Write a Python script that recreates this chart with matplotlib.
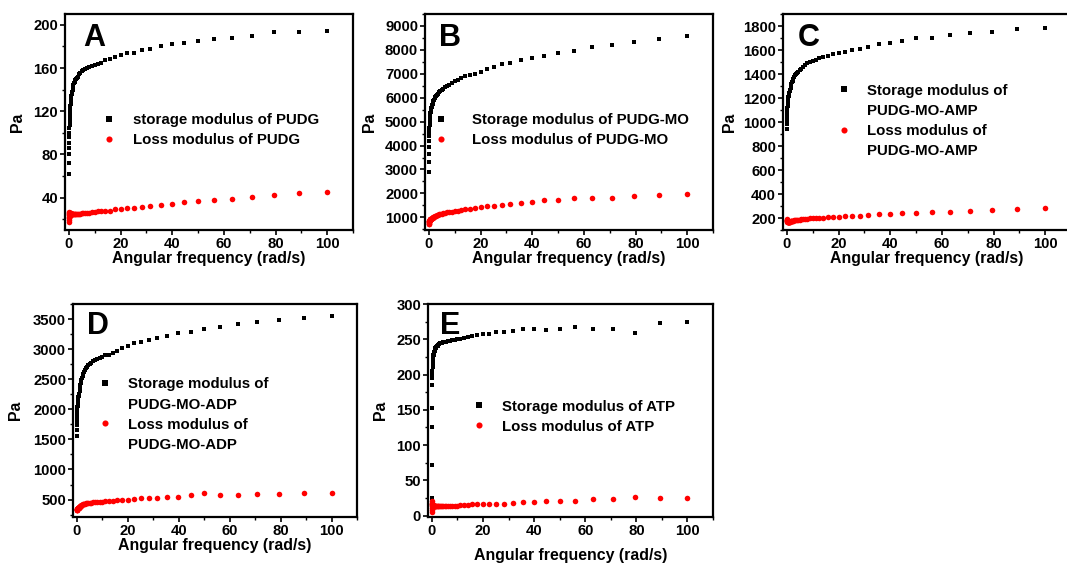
import matplotlib
matplotlib.use("Agg")
import matplotlib.pyplot as plt
from matplotlib.offsetbox import HPacker
from matplotlib.ticker import MultipleLocator

plt.rcParams['font.family'] = ['Liberation Sans', 'DejaVu Sans']
plt.rcParams['font.weight'] = 'bold'

# angular frequency sweep (rad/s)
freq = [0.1, 0.112, 0.126, 0.141, 0.158, 0.178, 0.2, 0.224, 0.251, 0.282,
        0.316, 0.355, 0.398, 0.447, 0.501, 0.562, 0.631, 0.708, 0.794, 0.891,
        1.0, 1.12, 1.26, 1.41, 1.58, 1.78, 2.0, 2.24, 2.51, 2.82,
        3.16, 3.55, 3.98, 4.47, 5.01, 5.62, 6.31, 7.08, 7.94, 8.91,
        10.0, 11.2, 12.6, 14.1, 15.8, 17.8, 20.0, 22.4, 25.1, 28.2,
        31.6, 35.5, 39.8, 44.7, 50.1, 56.2, 63.1, 70.8, 79.4, 89.1, 100.0]

# A - PUDG
a_storage = [62, 72, 80, 86, 91, 96, 100, 104, 107, 110, 113, 116, 119, 121, 123, 125, 127, 129, 131, 133,
             134, 136, 138, 140, 142, 144, 146, 147, 149, 150, 151, 152, 154, 155, 157, 158, 159, 160, 161, 162,
             163, 164, 165, 167, 168, 170, 172, 174, 174, 177, 178, 180, 182, 183, 185, 187, 188, 190, 193, 193, 194]
a_loss = [17, 22, 26, 19, 24, 27, 21, 25, 26, 23, 26, 25, 26, 25, 26, 25, 26, 25, 25, 25,
          25, 25, 25, 25, 25, 25, 25, 25, 25, 25, 25, 25, 25, 25, 25.5, 25.5, 26, 26, 26, 26.5,
          27, 27.5, 28, 28, 28, 29.5, 29.5, 30, 30.5, 31.5, 32.5, 33, 34.5, 35.5, 37, 38, 39, 41, 42, 44, 45]

# B - PUDG-MO
b_storage = [2900, 3300, 3650, 3950, 4200, 4400, 4570, 4720, 4850, 4960, 5060, 5140, 5210, 5270, 5320, 5370, 5410, 5450, 5490, 5520,
             5550, 5620, 5690, 5750, 5810, 5870, 5920, 5970, 6020, 6070, 6120, 6170, 6220, 6270, 6330, 6380, 6430, 6490, 6550, 6610,
             6700, 6760, 6830, 6900, 6950, 7000, 7090, 7200, 7300, 7400, 7470, 7570, 7670, 7760, 7870, 7970, 8100, 8210, 8340, 8470, 8590]
b_loss = [700, 740, 770, 800, 820, 840, 850, 860, 870, 880, 890, 895, 900, 905, 910, 915, 920, 925, 930, 935,
          940, 955, 970, 985, 1000, 1015, 1030, 1045, 1060, 1075, 1090, 1105, 1120, 1135, 1150, 1170, 1185, 1205, 1220, 1240,
          1260, 1280, 1310, 1340, 1360, 1390, 1420, 1470, 1490, 1530, 1560, 1610, 1650, 1710, 1740, 1800, 1820, 1820, 1880, 1920, 1990]

# C - PUDG-MO-AMP
c_storage = [940, 980, 1010, 1040, 1060, 1080, 1100, 1115, 1130, 1145, 1160, 1170, 1180, 1190, 1200, 1208, 1216, 1224, 1230, 1235,
             1240, 1255, 1270, 1285, 1300, 1315, 1330, 1345, 1360, 1375, 1390, 1400, 1410, 1420, 1430, 1445, 1460, 1475, 1490, 1500,
             1510, 1520, 1530, 1540, 1550, 1565, 1577, 1586, 1600, 1611, 1623, 1646, 1657, 1674, 1697, 1700, 1723, 1740, 1754, 1771, 1783]
c_loss = [180, 188, 175, 185, 172, 182, 170, 178, 168, 175, 170, 172, 168, 170, 167, 169, 168, 167, 168, 168,
          168, 168, 170, 171, 172, 174, 175, 177, 178, 180, 181, 183, 184, 186, 187, 189, 191, 193, 195, 196,
          198, 200, 202, 204, 206, 209, 211, 214, 220, 220, 229, 231, 237, 243, 243, 251, 251, 257, 263, 277, 283]

# D - PUDG-MO-ADP
d_storage = [1550, 1650, 1740, 1810, 1870, 1920, 1960, 2000, 2030, 2060, 2090, 2110, 2130, 2150, 2170, 2185, 2200, 2215, 2228, 2240,
             2250, 2300, 2350, 2400, 2440, 2480, 2520, 2555, 2590, 2620, 2650, 2680, 2705, 2730, 2755, 2775, 2795, 2815, 2835, 2855,
             2870, 2900, 2900, 2930, 2975, 3015, 3055, 3095, 3115, 3145, 3185, 3210, 3265, 3285, 3335, 3360, 3415, 3450, 3490, 3515, 3545]
d_loss = [320, 325, 330, 334, 338, 342, 345, 348, 351, 354, 356, 358, 360, 362, 363, 364, 365, 366, 367, 368,
          370, 378, 386, 393, 400, 406, 412, 418, 423, 428, 432, 436, 440, 444, 447, 450, 453, 456, 459, 462,
          465, 470, 475, 480, 489, 495, 500, 517, 522, 528, 533, 544, 544, 578, 611, 572, 572, 589, 589, 611, 611]

# E - ATP
e_storage = [12, 25, 72, 125, 152, 185, 195, 200, 205, 210, 213, 216, 219, 221, 223, 225, 227, 228, 229, 231,
             232, 234, 236, 237, 238, 239, 240, 241, 242, 243, 244, 244.5, 245, 245.5, 246, 246.5, 247, 247.5, 248.5, 249,
             250, 251, 252, 253.5, 254.5, 255.7, 257, 258, 260, 261, 262, 264, 265, 263, 265, 267.5, 265, 265, 259.5, 272.4, 273.8]
e_loss = [5, 8, 11, 15, 18, 20, 17, 14, 16, 13, 15, 12, 14, 13, 15, 13, 14, 13, 14, 13,
          13, 13, 13, 13, 13, 13, 13, 13, 13, 13.5, 13.5, 13.5, 13.5, 13.5, 13.5, 14, 14, 14, 14, 14,
          14, 14.5, 15, 15.5, 16, 16, 16, 16, 17, 17, 18, 19, 19.5, 21, 21, 21, 23, 23, 26, 25, 25]

W, H = 1067, 563
fig = plt.figure(figsize=(W / 100, H / 100), dpi=100)


def panel(box, letter, storage, loss, lab_s, lab_l, ylim, ystep,
          leg_xy, letter_xy, ylab_x, textpad=1.05, xlabpad=0.0):
    l, t, r, b = box
    ax = fig.add_axes([l / W, 1 - b / H, (r - l) / W, (b - t) / H])
    ax.plot(freq, storage, 's', color='black', ms=3.5, mew=0, label=lab_s)
    ax.plot(freq, loss, 'o', color='red', ms=4.0, mew=0, label=lab_l)
    ax.set_xlim(-1.5, 110)
    ax.set_ylim(*ylim)
    ax.xaxis.set_major_locator(MultipleLocator(20))
    ax.xaxis.set_minor_locator(MultipleLocator(10))
    ax.yaxis.set_major_locator(MultipleLocator(ystep))
    ax.yaxis.set_minor_locator(MultipleLocator(ystep / 2))
    ax.tick_params(which='major', direction='out', length=3.5, width=1.2, labelsize=10.7, pad=1.5)
    ax.tick_params(which='minor', direction='out', length=2, width=1.0)
    for sp in ax.spines.values():
        sp.set_linewidth(1.6)
    ax.set_xlabel('Angular frequency (rad/s)', fontsize=11.4, fontweight='bold', labelpad=xlabpad)
    ax.set_ylabel('Pa', fontsize=11.4, fontweight='bold')
    ax.yaxis.set_label_coords(ylab_x, 0.5)
    ax.text(letter_xy[0], letter_xy[1], letter, transform=ax.transAxes,
            fontsize=22, fontweight='bold', va='top', ha='left')
    leg = ax.legend(loc='upper left', bbox_to_anchor=leg_xy, frameon=False,
                    fontsize=10.8, handlelength=1.0, handletextpad=textpad,
                    labelspacing=0.4, borderpad=0, borderaxespad=0,
                    numpoints=1, markerscale=1.1)
    for txt in leg.get_texts():
        txt.set_linespacing(1.55)
    for hp in leg.findobj(HPacker):
        hp.align = 'top'
    return ax


panel((65, 14, 353, 230), 'A', a_storage, a_loss,
      'storage modulus of PUDG', 'Loss modulus of PUDG',
      (10, 210), 40, (0.128, 0.54), (0.0625, 0.958), -0.14)
panel((425, 14, 713, 230), 'B', b_storage, b_loss,
      'Storage modulus of PUDG-MO', 'Loss modulus of PUDG-MO',
      (470, 9500), 1000, (0.031, 0.54), (0.05, 0.958), -0.165, textpad=1.55)
panel((783, 14, 1071, 230), 'C', c_storage, c_loss,
      'Storage modulus of\nPUDG-MO-AMP', 'Loss modulus of\nPUDG-MO-AMP',
      (100, 1900), 200, (0.185, 0.675), (0.05, 0.958), -0.16)
panel((73, 304, 357, 517), 'D', d_storage, d_loss,
      'Storage modulus of\nPUDG-MO-ADP', 'Loss modulus of\nPUDG-MO-ADP',
      (210, 3750), 500, (0.086, 0.655), (0.05, 0.965), -0.175)
panel((428, 304, 713, 517), 'E', e_storage, e_loss,
      'Storage modulus of ATP', 'Loss modulus of ATP',
      (-2, 300), 50, (0.152, 0.55), (0.042, 0.965), -0.14, xlabpad=7)

fig.savefig('out.png', dpi=100)
